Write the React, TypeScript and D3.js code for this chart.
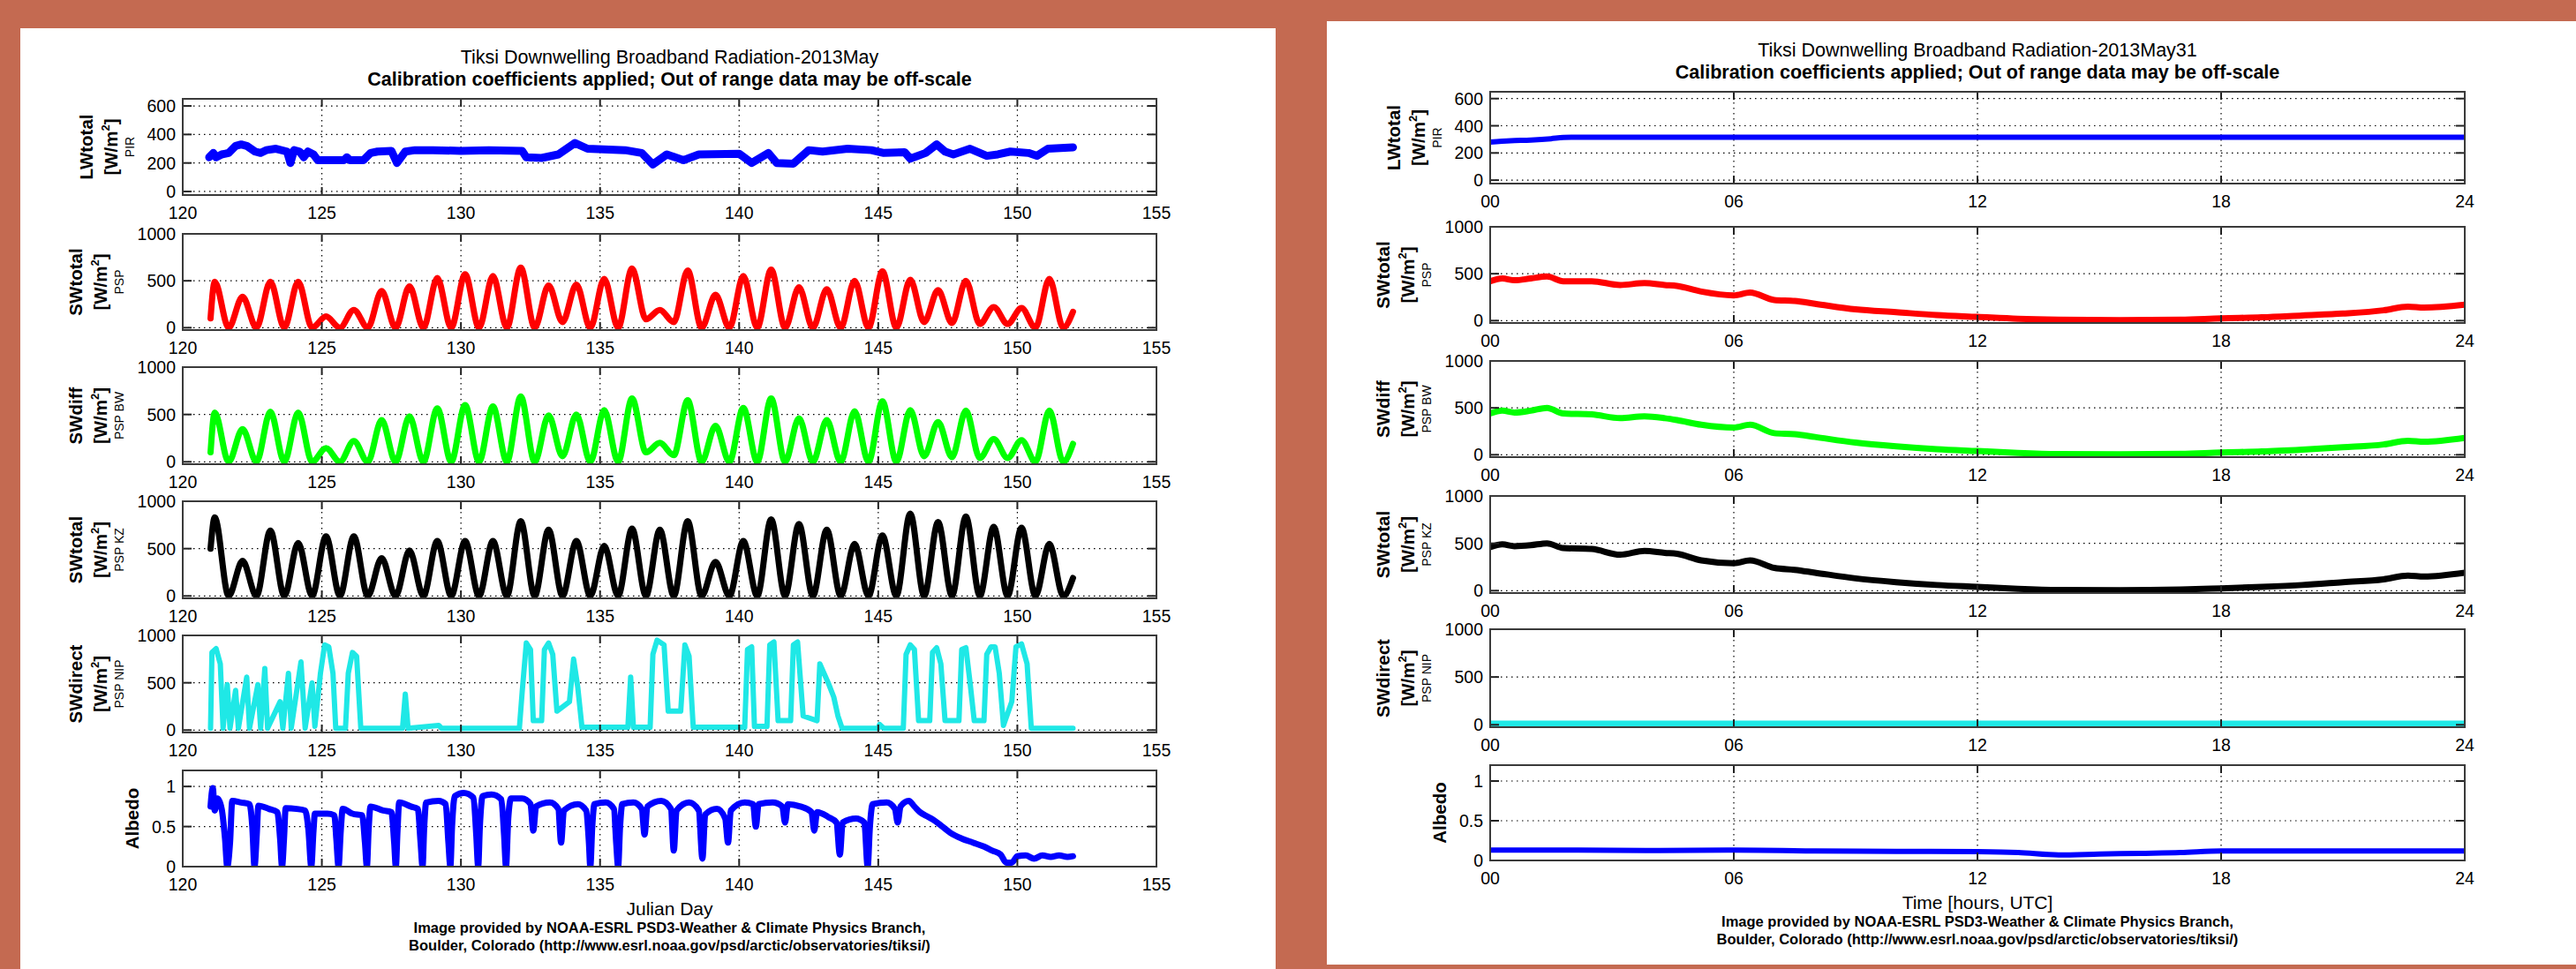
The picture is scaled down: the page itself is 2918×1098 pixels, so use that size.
import React from 'react';
import * as d3 from 'd3';

type Pt = [number, number];

// ---------- axes ----------
const julianTicks = [120, 125, 130, 135, 140, 145, 150, 155];
const hourTicks = [0, 6, 12, 18, 24];
const hourLabels = ['00', '06', '12', '18', '24'];
const lwTicks = [0, 200, 400, 600];
const swTicks = [0, 500, 1000];
const albedoTicks = [0, 0.5, 1];

// ---------- 2013 May, Julian day ----------
const mayLW: Pt[] = [
  [120.95, 240], [121.1, 270], [121.2, 240], [121.4, 260], [121.65, 270], [121.9, 320], [122.1, 330], [122.3, 320],
  [122.6, 280], [122.8, 270], [123.0, 290], [123.35, 300], [123.75, 280], [123.87, 200], [124.0, 290], [124.2, 280],
  [124.35, 240], [124.5, 280], [124.7, 260], [124.85, 220], [125.2, 220], [125.8, 220], [125.9, 240], [126.0, 220],
  [126.5, 220], [126.75, 270], [127.0, 280], [127.5, 285], [127.7, 200], [128.0, 280], [128.35, 290], [129, 290],
  [130, 285], [131, 290], [132.2, 285], [132.35, 240], [132.9, 235], [133.5, 260], [134.1, 340], [134.55, 300],
  [135.9, 290], [136.5, 270], [136.9, 190], [137.4, 260], [138.0, 220], [138.55, 260], [140.0, 265], [140.45, 200],
  [141.05, 270], [141.35, 200], [141.95, 195], [142.5, 290], [143.0, 280], [143.9, 300], [144.75, 290], [145.2, 270],
  [145.95, 275], [146.15, 230], [146.7, 270], [147.1, 330], [147.4, 280], [147.7, 260], [148.3, 300], [148.9, 250],
  [149.3, 260], [149.75, 280], [150.4, 270], [150.7, 250], [151.1, 300], [152.0, 310],
];

const diurnalDays = [
  121, 121.15, 121.65, 122.15, 122.65, 123.15, 123.65, 124.15, 124.65, 125.15, 125.65, 126.15, 126.65,
  127.15, 127.65, 128.15, 128.65, 129.15, 129.65, 130.15, 130.65, 131.15, 131.65, 132.15, 132.65,
  133.15, 133.65, 134.15, 134.65, 135.15, 135.65, 136.15, 136.65, 137.15, 137.65, 138.15, 138.65,
  139.15, 139.65, 140.15, 140.65, 141.15, 141.65, 142.15, 142.65, 143.15, 143.65, 144.15, 144.65,
  145.15, 145.65, 146.15, 146.65, 147.15, 147.65, 148.15, 148.65, 149.15, 149.65, 150.15, 150.65,
  151.15, 151.65, 152,
];
const maySWtotal = [
  100, 490, 0, 330, 0, 490, 0, 490, 0, 120, 0, 190, 0, 390, 0, 440, 0, 530, 0, 570, 0, 550, 0, 640, 0,
  450, 60, 460, 0, 520, 0, 630, 90, 190, 60, 610, 0, 350, 0, 550, 0, 620, 0, 430, 0, 410, 0, 500, 0,
  600, 0, 510, 60, 400, 50, 500, 40, 220, 40, 210, 0, 520, 0, 170,
];
const maySWdiff = [
  100, 520, 0, 345, 0, 530, 0, 520, 0, 145, 0, 220, 0, 440, 0, 480, 0, 565, 0, 600, 0, 585, 0, 690, 0,
  490, 60, 500, 0, 545, 0, 670, 100, 200, 70, 650, 0, 380, 0, 570, 0, 670, 0, 460, 0, 440, 0, 535, 0,
  640, 0, 545, 60, 420, 50, 540, 40, 240, 40, 230, 0, 540, 0, 190,
];
const maySWkz = [
  500, 830, 0, 370, 0, 690, 0, 560, 0, 630, 0, 630, 0, 400, 0, 480, 0, 580, 0, 580, 0, 580, 0, 790, 0,
  700, 0, 580, 0, 530, 0, 710, 0, 700, 0, 790, 0, 360, 0, 580, 0, 810, 0, 760, 0, 700, 0, 550, 0,
  640, 0, 870, 0, 780, 0, 840, 0, 730, 0, 720, 0, 550, 0, 190,
];
const maySWdirect: Pt[] = [
  [121.0, 20], [121.05, 820], [121.2, 860], [121.35, 700], [121.45, 20], [121.6, 480], [121.7, 20], [121.9, 420],
  [122.0, 20], [122.3, 560], [122.4, 20], [122.7, 480], [122.8, 20], [122.95, 650], [123.05, 20], [123.5, 300],
  [123.6, 20], [123.8, 600], [123.9, 20], [124.25, 720], [124.4, 20], [124.65, 500], [124.75, 40], [124.95, 600],
  [125.1, 900], [125.25, 880], [125.4, 600], [125.5, 20], [125.85, 20], [125.95, 600], [126.1, 820], [126.25, 780],
  [126.4, 20], [127.9, 20], [128.0, 380], [128.1, 20], [129.2, 50], [129.3, 20], [132.1, 20], [132.2, 400],
  [132.35, 920], [132.5, 850], [132.6, 100], [132.9, 100], [133.0, 850], [133.15, 920], [133.3, 800], [133.45, 200],
  [133.9, 300], [134.05, 750], [134.2, 450], [134.35, 30], [136.0, 30], [136.1, 560], [136.2, 30], [136.8, 30],
  [136.9, 800], [137.05, 950], [137.3, 900], [137.45, 200], [137.9, 200], [138.05, 900], [138.2, 780], [138.35, 30],
  [140.2, 30], [140.3, 850], [140.45, 880], [140.55, 40], [141.0, 40], [141.1, 900], [141.25, 930], [141.4, 100],
  [141.85, 100], [141.95, 900], [142.1, 930], [142.3, 150], [142.8, 100], [142.9, 700], [143.05, 600], [143.2, 500],
  [143.4, 350], [143.55, 150], [143.7, 20], [145.0, 20], [145.05, 60], [145.2, 20], [145.9, 20], [146.0, 800],
  [146.15, 900], [146.3, 850], [146.45, 100], [146.85, 100], [146.95, 820], [147.1, 870], [147.25, 700], [147.4, 100],
  [147.9, 100], [148.0, 850], [148.15, 870], [148.3, 500], [148.45, 100], [148.8, 100], [148.9, 800], [149.05, 880],
  [149.2, 880], [149.35, 600], [149.5, 50], [149.8, 300], [149.95, 880], [150.15, 910], [150.35, 700], [150.5, 20],
  [152.0, 20],
];
const mayAlbedo: Pt[] = [
  [121.0, 0.75], [121.08, 0.98], [121.15, 0.7], [121.25, 0.85], [121.4, 0.72], [121.52, 0.35], [121.6, 0], [121.7, 0.3],
  [121.78, 0.82], [122.1, 0.8], [122.4, 0.78], [122.5, 0.5], [122.58, 0], [122.66, 0.4], [122.72, 0.76], [123.1, 0.72],
  [123.4, 0.68], [123.5, 0.35], [123.57, 0], [123.64, 0.35], [123.7, 0.73], [124.1, 0.72], [124.4, 0.7], [124.52, 0.45],
  [124.62, 0], [124.7, 0.45], [124.75, 0.66], [125.2, 0.66], [125.45, 0.64], [125.52, 0.35], [125.6, 0], [125.68, 0.45],
  [125.75, 0.72], [126.1, 0.66], [126.45, 0.64], [126.55, 0.3], [126.62, 0], [126.68, 0.45], [126.75, 0.75], [127.2, 0.7],
  [127.5, 0.68], [127.6, 0.3], [127.66, 0], [127.72, 0.45], [127.78, 0.8], [128.2, 0.75], [128.45, 0.72], [128.55, 0.3],
  [128.62, 0], [128.68, 0.5], [128.75, 0.8], [129.2, 0.82], [129.45, 0.78], [129.55, 0.3], [129.62, 0], [129.68, 0.5],
  [129.78, 0.88], [130.1, 0.92], [130.45, 0.86], [130.55, 0.4], [130.62, 0], [130.68, 0.5], [130.78, 0.88], [131.1, 0.9],
  [131.45, 0.84], [131.55, 0.4], [131.62, 0], [131.7, 0.6], [131.8, 0.85], [132.2, 0.85], [132.5, 0.78], [132.6, 0.45],
  [132.7, 0.75], [133.2, 0.8], [133.5, 0.72], [133.6, 0.3], [133.7, 0.7], [134.2, 0.78], [134.5, 0.7], [134.6, 0.3],
  [134.65, 0], [134.72, 0.5], [134.8, 0.78], [135.2, 0.8], [135.5, 0.72], [135.58, 0.3], [135.65, 0], [135.72, 0.5],
  [135.8, 0.78], [136.2, 0.8], [136.5, 0.72], [136.6, 0.4], [136.7, 0.75], [137.2, 0.82], [137.55, 0.72], [137.65, 0.2],
  [137.75, 0.7], [138.2, 0.8], [138.55, 0.7], [138.68, 0.1], [138.78, 0.65], [139.2, 0.72], [139.5, 0.6], [139.6, 0.3],
  [139.7, 0.7], [140.2, 0.8], [140.5, 0.78], [140.6, 0.5], [140.7, 0.78], [141.2, 0.8], [141.55, 0.75], [141.65, 0.55],
  [141.75, 0.78], [142.2, 0.75], [142.6, 0.68], [142.7, 0.45], [142.8, 0.68], [143.2, 0.62], [143.5, 0.55], [143.62, 0.15],
  [143.72, 0.55], [144.2, 0.6], [144.5, 0.55], [144.62, 0], [144.7, 0.5], [144.8, 0.78], [145.3, 0.8], [145.6, 0.72],
  [145.7, 0.55], [145.8, 0.75], [146.1, 0.82], [146.3, 0.75], [146.5, 0.68], [146.8, 0.62], [147.0, 0.58], [147.3, 0.5],
  [147.6, 0.42], [148.0, 0.35], [148.4, 0.3], [148.8, 0.25], [149.1, 0.2], [149.4, 0.15], [149.6, 0.05], [149.8, 0.05],
  [150.0, 0.13], [150.3, 0.14], [150.6, 0.1], [150.9, 0.14], [151.2, 0.12], [151.5, 0.14], [151.8, 0.12], [152.0, 0.13],
];

// ---------- 2013 May 31, hours UTC ----------
const may31LW: Pt[] = [[0, 280], [0.5, 290], [1, 295], [1.5, 305], [1.8, 314], [2.2, 316], [24, 316]];
const may31Hours = [0, 0.3, 0.6, 1, 1.4, 1.8, 2.5, 3.2, 3.8, 4.3, 4.6, 5.2, 6, 6.4, 7, 7.5, 8, 9, 10, 11, 12, 13, 14, 15.5, 17, 18, 19, 20, 21, 22, 22.6, 23, 24];
const may31SWtotal = [420, 450, 430, 450, 470, 420, 420, 380, 400, 380, 370, 310, 270, 300, 220, 210, 180, 120, 90, 60, 40, 20, 10, 5, 10, 25, 35, 55, 75, 110, 150, 140, 170];
const may31SWdiff = [440, 470, 450, 470, 500, 440, 430, 390, 410, 390, 370, 320, 290, 320, 230, 220, 190, 130, 90, 60, 40, 20, 8, 5, 10, 25, 35, 55, 80, 110, 150, 140, 180];
const may31SWkz = [460, 490, 470, 480, 500, 450, 440, 380, 420, 400, 390, 320, 290, 320, 240, 220, 190, 130, 90, 60, 40, 20, 8, 5, 12, 25, 40, 60, 90, 120, 160, 150, 190];
const may31SWdirect: Pt[] = [[0, 12], [24, 12]];
const may31Albedo: Pt[] = [
  [0, 0.13], [2, 0.13], [4, 0.125], [6, 0.13], [8, 0.12], [10, 0.115], [12, 0.11], [13, 0.1], [14, 0.07],
  [15, 0.08], [16, 0.09], [17, 0.1], [18, 0.12], [20, 0.12], [22, 0.12], [24, 0.12],
];

const zip = (xs: number[], ys: number[]): Pt[] => xs.map((x, i) => [x, ys[i]]);

const FONT = 'Liberation Sans, Arial, Helvetica, sans-serif';
const BG = '#c46a51';
const CYAN = '#1fe8e6';

type Spec = {
  label: string;
  sub: string;
  domain: [number, number];
  ticks: number[];
  color: string;
  labelX: number[];
};

const specs: Spec[] = [
  { label: 'LWtotal', sub: 'PIR', domain: [-25, 650], ticks: lwTicks, color: '#0000ff', labelX: [102, 74, 55] },
  { label: 'SWtotal', sub: 'PSP', domain: [-25, 1000], ticks: swTicks, color: '#ff0000', labelX: [114, 86, 67] },
  { label: 'SWdiff', sub: 'PSP BW', domain: [-25, 1000], ticks: swTicks, color: '#00ff00', labelX: [114, 86, 67] },
  { label: 'SWtotal', sub: 'PSP KZ', domain: [-25, 1000], ticks: swTicks, color: '#000000', labelX: [114, 86, 67] },
  { label: 'SWdirect', sub: 'PSP NIP', domain: [-25, 1000], ticks: swTicks, color: CYAN, labelX: [114, 86, 67] },
  { label: 'Albedo', sub: '', domain: [0, 1.2], ticks: albedoTicks, color: '#0000ff', labelX: [50] },
];

type ChartProps = {
  id: string;
  x0: number;
  x1: number;
  tops: number[];
  bottoms: number[];
  xDomain: [number, number];
  xTicks: number[];
  xFmt: (v: number, i: number) => string;
  series: Pt[][];
  curves: d3.CurveFactory[];
  widths: number[];
  title: string;
  titleY: number;
  xLabel: string;
  xLabelY: number;
  creditY: number;
};

function Chart(p: ChartProps) {
  const x = d3.scaleLinear().domain(p.xDomain).range([p.x0, p.x1]);
  const cx = (p.x0 + p.x1) / 2;
  return (
    <g fontFamily={FONT}>
      <text x={cx} y={p.titleY} textAnchor="middle" fontSize={21.5}>{p.title}</text>
      <text x={cx} y={p.titleY + 25} textAnchor="middle" fontSize={21.5} fontWeight="bold">
        Calibration coefficients applied; Out of range data may be off-scale
      </text>
      {specs.map((s, i) => {
        const top = p.tops[i];
        const bot = p.bottoms[i];
        const y = d3.scaleLinear().domain(s.domain).range([bot, top]);
        const line = d3.line<Pt>().x(d => x(d[0])).y(d => y(d[1])).curve(p.curves[i]);
        const cy = (top + bot) / 2;
        const clip = `${p.id}-clip-${i}`;
        return (
          <g key={i}>
            <defs>
              <clipPath id={clip}>
                <rect x={p.x0} y={top} width={p.x1 - p.x0} height={bot - top} />
              </clipPath>
            </defs>
            {/* grid */}
            {s.ticks.map(t => (
              <line key={'gy' + t} x1={p.x0} x2={p.x1} y1={y(t)} y2={y(t)} stroke="#000" strokeWidth={1.2} strokeDasharray="1.5 4.5" />
            ))}
            {p.xTicks.slice(1, -1).map(t => (
              <line key={'gx' + t} x1={x(t)} x2={x(t)} y1={top} y2={bot} stroke="#000" strokeWidth={1.2} strokeDasharray="1.5 4.5" />
            ))}
            {/* data */}
            <path d={line(p.series[i]) || ''} fill="none" stroke={s.color} strokeWidth={p.widths[i]}
              strokeLinejoin="round" strokeLinecap="round" clipPath={`url(#${clip})`} />
            {/* ticks */}
            {s.ticks.map(t => (
              <g key={'ty' + t}>
                <line x1={p.x0} x2={p.x0 + 10} y1={y(t)} y2={y(t)} stroke="#222" strokeWidth={2} />
                <line x1={p.x1} x2={p.x1 - 10} y1={y(t)} y2={y(t)} stroke="#222" strokeWidth={2} />
                <text x={p.x0 - 8} y={y(t)} dy="0.36em" textAnchor="end" fontSize={19.5}>{t}</text>
              </g>
            ))}
            {p.xTicks.map((t, k) => (
              <g key={'tx' + t}>
                <line x1={x(t)} x2={x(t)} y1={bot} y2={bot - 9} stroke="#222" strokeWidth={2} />
                <line x1={x(t)} x2={x(t)} y1={top} y2={top + 9} stroke="#222" strokeWidth={2} />
                <text x={x(t)} y={bot + 27} textAnchor="middle" fontSize={19.5}>{p.xFmt(t, k)}</text>
              </g>
            ))}
            <rect x={p.x0} y={top} width={p.x1 - p.x0} height={bot - top} fill="none" stroke="#3a3a3a" strokeWidth={2} />
            {/* y label */}
            <text transform={`translate(${p.x0 - s.labelX[0]},${cy}) rotate(-90)`} textAnchor="middle" fontSize={20.5} fontWeight="bold">
              {s.label}
            </text>
            {s.sub && (
              <>
                <text transform={`translate(${p.x0 - s.labelX[1]},${cy}) rotate(-90)`} textAnchor="middle" fontSize={20.5} fontWeight="bold">
                  [W/m<tspan fontSize={13} dy={-9}>2</tspan><tspan dy={9}>]</tspan>
                </text>
                <text transform={`translate(${p.x0 - s.labelX[2]},${cy}) rotate(-90)`} textAnchor="middle" fontSize={14}>
                  {s.sub}
                </text>
              </>
            )}
          </g>
        );
      })}
      <text x={cx} y={p.xLabelY} textAnchor="middle" fontSize={21}>{p.xLabel}</text>
      <text x={cx} y={p.creditY} textAnchor="middle" fontSize={16.5} fontWeight="bold">
        Image provided by NOAA-ESRL PSD3-Weather &amp; Climate Physics Branch,
      </text>
      <text x={cx} y={p.creditY + 20} textAnchor="middle" fontSize={16.5} fontWeight="bold">
        Boulder, Colorado (http://www.esrl.noaa.gov/psd/arctic/observatories/tiksi/)
      </text>
    </g>
  );
}

export default function App() {
  const mono = d3.curveMonotoneX;
  const lin = d3.curveLinear;
  return (
    <svg width={2918} height={1098} style={{ position: 'absolute', left: 0, top: 0, display: 'block' }}>
      <rect x={0} y={0} width={2918} height={1098} fill={BG} />
      <rect x={23} y={32} width={1422} height={1066} fill="#fff" />
      <rect x={1503} y={24} width={1415} height={1069} fill="#fff" />
      <Chart
        id="may"
        x0={207}
        x1={1310}
        tops={[112, 265, 416, 568, 720, 873]}
        bottoms={[221, 374, 526, 678, 830, 982]}
        xDomain={[120, 155]}
        xTicks={julianTicks}
        xFmt={v => String(v)}
        series={[mayLW, zip(diurnalDays, maySWtotal), zip(diurnalDays, maySWdiff), zip(diurnalDays, maySWkz), maySWdirect, mayAlbedo]}
        curves={[lin, mono, mono, mono, lin, mono]}
        widths={[9, 7, 7, 7, 6, 7]}
        title="Tiksi Downwelling Broadband Radiation-2013May"
        titleY={72}
        xLabel="Julian Day"
        xLabelY={1037}
        creditY={1057}
      />
      <Chart
        id="may31"
        x0={1688}
        x1={2792}
        tops={[104, 257, 409, 562, 713, 867]}
        bottoms={[208, 366, 518, 672, 824, 975]}
        xDomain={[0, 24]}
        xTicks={hourTicks}
        xFmt={(v, i) => hourLabels[i]}
        series={[may31LW, zip(may31Hours, may31SWtotal), zip(may31Hours, may31SWdiff), zip(may31Hours, may31SWkz), may31SWdirect, may31Albedo]}
        curves={[mono, mono, mono, mono, lin, mono]}
        widths={[6, 7, 7, 7, 7, 6]}
        title="Tiksi Downwelling Broadband Radiation-2013May31"
        titleY={64}
        xLabel="Time [hours, UTC]"
        xLabelY={1030}
        creditY={1050}
      />
    </svg>
  );
}
